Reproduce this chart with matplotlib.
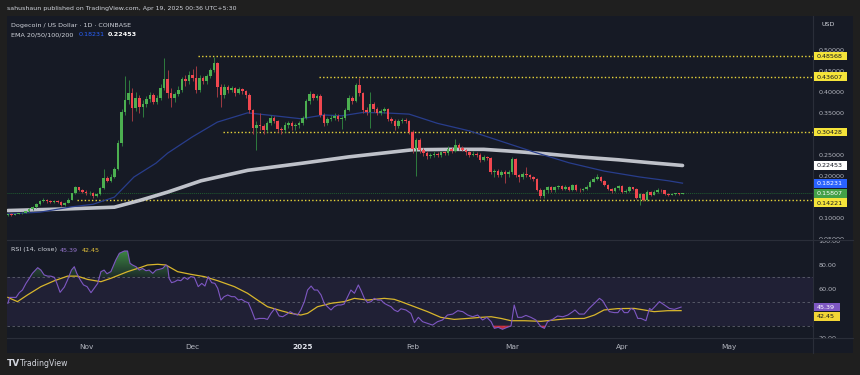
import numpy as np
import matplotlib.pyplot as plt
from matplotlib.patches import Rectangle
from matplotlib.lines import Line2D
from matplotlib.path import Path
from matplotlib.transforms import blended_transform_factory, Bbox

W, H = 860, 375
BG = '#161a25'
FRAME = '#1f1f1f'
GRID = '#2a2e39'
TXT = '#b2b5be'

# --- daily candles, Oct 10 2024 -> Apr 18 2025 (open = previous close) ---
open_first = 0.106
close_oct = [0.108, 0.107, 0.109, 0.110, 0.111, 0.115, 0.121, 0.125, 0.133, 0.140, 0.141, 0.139, 0.137, 0.139, 0.138, 0.130, 0.136, 0.143, 0.158, 0.172, 0.166, 0.162]
high_oct = [0.109, 0.110, 0.111, 0.112, 0.113, 0.117, 0.124, 0.128, 0.136, 0.143, 0.146, 0.144, 0.142, 0.142, 0.141, 0.140, 0.138, 0.146, 0.160, 0.176, 0.174, 0.168]
low_oct = [0.105, 0.105, 0.106, 0.108, 0.109, 0.110, 0.114, 0.119, 0.124, 0.131, 0.137, 0.136, 0.134, 0.135, 0.135, 0.128, 0.129, 0.135, 0.142, 0.156, 0.163, 0.158]

close_nov = [0.158, 0.160, 0.152, 0.156, 0.170, 0.194, 0.188, 0.198, 0.216, 0.277, 0.352, 0.381, 0.398, 0.362, 0.385, 0.364, 0.372, 0.383, 0.392, 0.376, 0.385, 0.410, 0.430, 0.398, 0.385, 0.395, 0.405, 0.430, 0.425, 0.440]
high_nov = [0.165, 0.163, 0.162, 0.158, 0.172, 0.215, 0.200, 0.204, 0.222, 0.285, 0.360, 0.437, 0.428, 0.410, 0.400, 0.392, 0.380, 0.390, 0.400, 0.398, 0.392, 0.418, 0.482, 0.452, 0.410, 0.400, 0.415, 0.436, 0.440, 0.450]
low_nov = [0.154, 0.155, 0.146, 0.150, 0.155, 0.168, 0.184, 0.185, 0.195, 0.214, 0.270, 0.345, 0.370, 0.330, 0.355, 0.350, 0.340, 0.365, 0.375, 0.370, 0.372, 0.380, 0.405, 0.385, 0.365, 0.375, 0.390, 0.400, 0.415, 0.420]

close_dec = [0.432, 0.405, 0.432, 0.425, 0.437, 0.452, 0.468, 0.412, 0.392, 0.412, 0.405, 0.410, 0.398, 0.407, 0.402, 0.393, 0.357, 0.313, 0.321, 0.318, 0.310, 0.325, 0.338, 0.330, 0.312, 0.308, 0.322, 0.326, 0.318, 0.320, 0.325]
high_dec = [0.455, 0.462, 0.440, 0.437, 0.442, 0.458, 0.484, 0.472, 0.418, 0.418, 0.416, 0.415, 0.412, 0.412, 0.410, 0.405, 0.397, 0.360, 0.330, 0.350, 0.324, 0.330, 0.345, 0.342, 0.334, 0.316, 0.328, 0.330, 0.330, 0.325, 0.330]
low_dec = [0.425, 0.398, 0.400, 0.418, 0.420, 0.432, 0.448, 0.388, 0.365, 0.385, 0.398, 0.400, 0.390, 0.394, 0.396, 0.385, 0.350, 0.300, 0.262, 0.310, 0.300, 0.305, 0.320, 0.325, 0.305, 0.300, 0.305, 0.315, 0.310, 0.308, 0.315]

close_jan = [0.338, 0.378, 0.394, 0.386, 0.390, 0.345, 0.325, 0.335, 0.337, 0.343, 0.336, 0.338, 0.357, 0.386, 0.378, 0.416, 0.397, 0.357, 0.352, 0.370, 0.360, 0.350, 0.355, 0.360, 0.335, 0.330, 0.318, 0.330, 0.333, 0.330, 0.305]
high_jan = [0.342, 0.382, 0.402, 0.398, 0.394, 0.395, 0.350, 0.340, 0.345, 0.350, 0.348, 0.342, 0.362, 0.392, 0.390, 0.422, 0.432, 0.400, 0.365, 0.400, 0.375, 0.365, 0.360, 0.365, 0.362, 0.340, 0.335, 0.335, 0.338, 0.337, 0.333]
low_jan = [0.320, 0.335, 0.372, 0.380, 0.380, 0.340, 0.318, 0.320, 0.330, 0.333, 0.330, 0.312, 0.332, 0.355, 0.370, 0.375, 0.390, 0.349, 0.345, 0.313, 0.352, 0.345, 0.345, 0.350, 0.330, 0.325, 0.310, 0.315, 0.325, 0.325, 0.300]

close_feb = [0.265, 0.285, 0.262, 0.254, 0.246, 0.250, 0.253, 0.249, 0.256, 0.254, 0.265, 0.258, 0.274, 0.266, 0.262, 0.256, 0.250, 0.253, 0.250, 0.237, 0.245, 0.242, 0.208, 0.212, 0.202, 0.210, 0.203, 0.210]
high_feb = [0.310, 0.290, 0.290, 0.266, 0.258, 0.255, 0.258, 0.257, 0.260, 0.260, 0.270, 0.268, 0.287, 0.278, 0.270, 0.265, 0.260, 0.258, 0.256, 0.254, 0.250, 0.248, 0.245, 0.216, 0.216, 0.214, 0.214, 0.214]
low_feb = [0.255, 0.200, 0.255, 0.248, 0.240, 0.242, 0.245, 0.244, 0.245, 0.250, 0.250, 0.254, 0.256, 0.262, 0.258, 0.250, 0.245, 0.246, 0.245, 0.232, 0.235, 0.238, 0.204, 0.198, 0.198, 0.198, 0.182, 0.198]

close_mar = [0.240, 0.202, 0.196, 0.205, 0.201, 0.197, 0.192, 0.167, 0.152, 0.165, 0.172, 0.165, 0.172, 0.176, 0.168, 0.174, 0.166, 0.178, 0.167, 0.165, 0.168, 0.174, 0.186, 0.193, 0.196, 0.188, 0.178, 0.168, 0.164, 0.170, 0.176]
high_mar = [0.245, 0.242, 0.205, 0.210, 0.222, 0.205, 0.200, 0.195, 0.170, 0.168, 0.176, 0.175, 0.175, 0.179, 0.178, 0.177, 0.176, 0.181, 0.180, 0.170, 0.171, 0.177, 0.190, 0.198, 0.205, 0.199, 0.190, 0.180, 0.171, 0.173, 0.179]
low_mar = [0.205, 0.198, 0.185, 0.192, 0.198, 0.192, 0.188, 0.163, 0.147, 0.146, 0.160, 0.162, 0.162, 0.168, 0.165, 0.165, 0.163, 0.164, 0.164, 0.162, 0.163, 0.165, 0.172, 0.184, 0.190, 0.185, 0.175, 0.165, 0.160, 0.162, 0.167]

close_apr = [0.162, 0.164, 0.172, 0.168, 0.148, 0.156, 0.143, 0.162, 0.155, 0.162, 0.167, 0.165, 0.157, 0.155, 0.157, 0.158, 0.157, 0.158]
high_apr = [0.178, 0.168, 0.175, 0.174, 0.170, 0.160, 0.158, 0.165, 0.164, 0.165, 0.170, 0.169, 0.167, 0.159, 0.159, 0.160, 0.160, 0.160]
low_apr = [0.158, 0.160, 0.162, 0.165, 0.145, 0.130, 0.140, 0.140, 0.152, 0.153, 0.160, 0.162, 0.155, 0.152, 0.153, 0.155, 0.155, 0.156]

# --- EMA lines (day index, price) ---
ema50_day = [0, 9, 18, 24, 30, 35.5, 41.7, 45, 52, 59, 67.5, 73, 82.5, 89, 94, 100, 106, 113, 121, 130, 139, 148, 158, 168, 178, 186, 190]
ema50_val = [0.109, 0.113, 0.126, 0.132, 0.149, 0.197, 0.230, 0.254, 0.293, 0.328, 0.350, 0.345, 0.336, 0.345, 0.343, 0.351, 0.350, 0.347, 0.325, 0.307, 0.282, 0.257, 0.231, 0.211, 0.197, 0.188, 0.1823]
ema200_day = [0, 17, 30, 37.5, 45, 54.4, 67.6, 83, 96, 114, 125, 134, 141, 152, 161, 172, 181, 190]
ema200_val = [0.117, 0.121, 0.125, 0.142, 0.161, 0.188, 0.213, 0.230, 0.245, 0.262, 0.263, 0.263, 0.259, 0.252, 0.245, 0.238, 0.231, 0.2245]

# --- RSI(14) and its moving average (day index, value) ---
rsi_day = [0, 0.5, 2.3, 3.2, 4.1, 5.1, 6.0, 6.9, 8.4, 9.3, 10.2, 11.2, 12.1, 13.1, 13.8, 14.7, 15.9, 16.8, 17.9, 18.7,
           19.4, 20.4, 21.3, 22.3, 23.4, 24.3, 25.3, 26.2, 27.1, 27.9, 29.0, 30.4, 31.4, 32.8, 33.7, 34.4, 35.1, 36.1, 37.0, 37.9,
           38.9, 39.8, 40.8, 41.7, 42.6, 43.6, 44.5, 45.0, 45.4, 46.1, 47.0, 47.8, 48.7, 49.7, 50.6, 51.5, 52.5, 53.6, 54.6, 55.5,
           56.4, 57.4, 58.3, 59.1, 60.0, 60.9, 61.9, 63.0, 63.9, 64.9, 65.8, 66.8, 67.7, 68.6, 69.6, 70.8, 72.2, 73.1, 74.1, 75.2,
           76.4, 77.4, 78.6, 79.5, 80.7, 81.6, 82.5, 83.5, 84.4, 85.4, 86.3, 87.2, 88.2, 89.1, 90.0, 91.0, 91.9, 92.9, 93.8, 94.7,
           95.7, 96.6, 97.6, 98.7, 99.4, 100.4, 101.3, 102.3, 103.2, 104.1, 105.1, 106.0, 106.9, 107.9, 108.8, 109.8, 110.7, 112.1, 113.5, 114.5,
           115.6, 116.8, 118.2, 119.6, 121.0, 122.4, 123.8, 125.3, 126.7, 128.1, 129.5, 130.9, 132.3, 133.7, 134.9, 136.1, 137.0, 138.1, 139.3, 140.6,
           141.7, 142.6, 143.6, 144.7, 145.9, 147.3, 148.7, 150.1, 151.1, 152.0, 153.4, 154.8, 156.3, 157.7, 159.1, 159.7, 160.9, 162.3, 163.7, 165.2,
           166.6, 167.5, 168.5, 169.4, 170.8, 171.8, 172.7, 173.6, 174.6, 175.5, 176.4, 177.4, 178.3, 179.7, 180.7, 181.3, 182.2, 183.5, 184.9, 186.3,
           187.7, 189.6]
rsi_val = [48.5, 53.4, 53.4, 57.3, 59.5, 65.0, 69.0, 73.3, 78.0, 76.0, 72.0, 71.0, 71.0, 70.0, 65.0, 57.6, 62.0, 67.8, 76.0, 78.8,
           73.3, 67.8, 63.7, 62.3, 57.3, 60.9, 65.0, 74.7, 76.0, 73.0, 74.7, 84.4, 89.9, 91.8, 91.8, 81.6, 80.2, 78.8, 76.0, 77.4,
           75.5, 76.0, 73.3, 76.0, 76.6, 77.4, 80.2, 78.8, 69.2, 65.6, 66.4, 67.8, 67.2, 70.0, 68.3, 70.6, 70.0, 62.3, 65.0, 62.8,
           70.6, 65.6, 65.0, 60.9, 51.2, 54.0, 55.4, 54.0, 54.0, 51.2, 51.8, 49.9, 49.0, 43.0, 35.2, 36.0, 36.0, 35.2, 40.2, 44.3,
           38.0, 37.4, 39.6, 41.6, 39.6, 38.8, 43.0, 49.9, 59.5, 62.8, 59.5, 59.5, 55.4, 48.5, 45.7, 43.0, 45.7, 47.1, 47.1, 47.9,
           54.0, 59.5, 56.8, 63.7, 59.5, 52.6, 49.0, 49.9, 52.6, 51.2, 51.2, 48.5, 47.1, 45.7, 43.0, 41.6, 44.0, 43.0, 40.2, 32.5,
           36.9, 33.3, 31.9, 30.5, 33.3, 34.7, 38.8, 39.6, 42.4, 41.6, 38.8, 37.4, 38.8, 34.7, 36.9, 33.3, 27.8, 28.6, 27.0, 28.6,
           29.7, 47.1, 36.9, 36.9, 38.5, 36.9, 34.7, 29.2, 27.8, 33.3, 35.2, 38.0, 37.4, 38.8, 41.6, 43.0, 39.6, 39.6, 44.3, 48.5,
           52.6, 50.7, 45.7, 41.6, 40.8, 40.8, 44.3, 40.8, 40.8, 44.3, 43.0, 36.0, 36.0, 34.1, 44.3, 43.0, 45.7, 49.9, 47.1, 44.3,
           43.5, 45.39]
rsima_day = [0, 2.7, 5.5, 9.3, 13.1, 16.8, 19.6, 22.4, 26.2, 29.0, 33.7, 37.5, 39.3, 42.2, 44.5, 47.8, 51.5, 55.3, 59.1, 63.8,
             67.5, 70.3, 73.1, 76.9, 79.7, 82.5, 84.4, 87.2, 91.0, 94.7, 97.6, 101.3, 106.0, 108.8, 110.7, 114.5, 118.2, 121.9, 125.7, 129.5,
             133.2, 136.1, 138.9, 141.7, 145.5, 150.1, 153.9, 157.7, 162.3, 165.2, 167.9, 171.7, 176.4, 179.2, 182.0, 185.8, 189.6]
rsima_val = [53.4, 49.9, 55.4, 62.3, 67.2, 71.0, 71.0, 68.3, 66.4, 69.2, 74.7, 78.3, 80.2, 80.8, 80.2, 74.7, 72.5, 70.6, 67.2, 62.3,
             56.8, 51.2, 45.7, 42.4, 40.2, 38.8, 40.2, 45.7, 48.5, 49.9, 52.6, 51.2, 52.6, 51.8, 49.9, 45.7, 41.6, 36.9, 35.2, 36.0,
             36.9, 37.4, 36.0, 34.1, 34.1, 33.6, 34.7, 35.8, 36.0, 38.8, 43.0, 44.1, 44.3, 43.0, 41.6, 42.4, 42.45]

# horizontal levels: (price, first day)
levels = [(0.48568, 53.5), (0.43607, 87.6), (0.30428, 60.5), (0.14221, 19.4)]
last_price = 0.15807
ema50_last, ema200_last = 0.18231, 0.22453
rsi_last, rsima_last = 45.39, 42.45
month_days = [22, 52, 83, 114, 142, 173, 203]
month_labels = ['Nov', 'Dec', '2025', 'Feb', 'Mar', 'Apr', 'May']
price_ticks = [0.05, 0.10, 0.20, 0.25, 0.35, 0.40, 0.45, 0.50]
rsi_ticks = [20, 60, 80, 100]

close = np.array(close_oct + close_nov + close_dec + close_jan + close_feb + close_mar + close_apr)
high = np.array(high_oct + high_nov + high_dec + high_jan + high_feb + high_mar + high_apr)
low = np.array(low_oct + low_nov + low_dec + low_jan + low_feb + low_mar + low_apr)
opn = np.concatenate([[open_first], close[:-1]])
days = np.arange(len(close))


def rect(x0, y0, x1, y1):
    return [x0 / W, 1 - y1 / H, (x1 - x0) / W, (y1 - y0) / H]


def ftext(x, y, s, **kw):
    fig.text(x / W, 1 - y / H, s, va='center', ha='left', **kw)


fig = plt.figure(figsize=(W / 100, H / 100), dpi=100, facecolor=FRAME)
fig.add_artist(Rectangle((7 / W, 1 - 353 / H), 846 / W, 337 / H, transform=fig.transFigure,
                         facecolor=BG, edgecolor='none', zorder=0))

ax = fig.add_axes(rect(7, 16, 813, 239))
ar = fig.add_axes(rect(7, 240, 813, 338), sharex=ax)
for a in (ax, ar):
    a.set_facecolor(BG)
    for s in a.spines.values():
        s.set_visible(False)
    a.tick_params(left=False, bottom=False, labelleft=False, labelbottom=False)

xlim = (-0.25, 226.75)

# --- main pane ---
ax.axhline(last_price, color='#1f5a30', lw=0.7, ls=(0, (1, 1)), zorder=1)
for p, d0 in levels:
    ax.plot([d0, xlim[1]], [p, p], color='#e8d53a', lw=1.0, ls=(0, (1, 1.6)), zorder=2)

ax.plot(ema200_day, ema200_val, color='#d1d4dc', lw=2.6, alpha=0.9, solid_capstyle='round', zorder=3)
ax.plot(ema50_day, ema50_val, color='#283d8c', lw=0.9, zorder=3)

up = close >= opn
body_lo = np.minimum(opn, close)
body_h = np.maximum(np.abs(close - opn), 0.0015)
ax.vlines(days[up], low[up], high[up], color='#2e7d3e', lw=0.7, zorder=4)
ax.vlines(days[~up], low[~up], high[~up], color='#a03a42', lw=0.7, zorder=4)
ax.bar(days[up], body_h[up], bottom=body_lo[up], width=0.72, color='#4caf50', lw=0, zorder=5)
ax.bar(days[~up], body_h[~up], bottom=body_lo[~up], width=0.72, color='#f0474f', lw=0, zorder=5)

ax.set_xlim(*xlim)
ax.set_ylim(0.0491, 0.5811)

# --- RSI pane ---
ar.axhspan(30, 70, color='#7e57c2', alpha=0.1, lw=0, zorder=0)
for lv in (70, 50, 30):
    ar.axhline(lv, color='#787b86', lw=0.6, ls=(0, (3, 3)), alpha=0.7, zorder=1)

rsi_x = np.array(rsi_day)
rsi_y = np.array(rsi_val)
fb_hi = ar.fill_between(rsi_x, rsi_y, 70, where=rsi_y > 70, interpolate=True, facecolor='none', edgecolor='none')
fb_lo = ar.fill_between(rsi_x, rsi_y, 30, where=rsi_y < 30, interpolate=True, facecolor='none', edgecolor='none')

g = np.linspace(0, 1, 128)[:, None]
grad_hi = np.zeros((128, 1, 4))
grad_hi[..., 0], grad_hi[..., 1], grad_hi[..., 2] = 0.30, 0.69, 0.31
grad_hi[..., 3] = 0.12 + 0.85 * g
im_hi = ar.imshow(grad_hi, extent=[xlim[0], xlim[1], 70, 100], origin='lower', aspect='auto', zorder=2)
im_hi.set_clip_path(Path.make_compound_path(*fb_hi.get_paths()), ar.transData)

grad_lo = np.zeros((128, 1, 4))
grad_lo[..., 0], grad_lo[..., 1], grad_lo[..., 2] = 0.95, 0.21, 0.27
grad_lo[..., 3] = 0.12 + 0.7 * g
im_lo = ar.imshow(grad_lo, extent=[xlim[0], xlim[1], 30, 0], origin='upper', aspect='auto', zorder=2)
paths_lo = fb_lo.get_paths()
if paths_lo:
    im_lo.set_clip_path(Path.make_compound_path(*paths_lo), ar.transData)
else:
    im_lo.set_visible(False)

ar.plot(rsima_day, rsima_val, color='#d8b62c', lw=0.9, zorder=3)
ar.plot(rsi_day, rsi_val, color='#7e57c2', lw=0.8, zorder=4)
ar.set_xlim(*xlim)
ar.set_ylim(19.8, 100.9)

# --- scales on the right ---
FS = 4.6
main_clip = fig.transFigure.transform_bbox(Bbox.from_extents(813 / W, 1 - 239 / H, 853 / W, 1 - 16 / H))
rsi_clip = fig.transFigure.transform_bbox(Bbox.from_extents(813 / W, 1 - 338 / H, 853 / W, 1 - 240 / H))
tr_main = blended_transform_factory(ax.transAxes, ax.transData)
tr_rsi = blended_transform_factory(ar.transAxes, ar.transData)
for p in price_ticks:
    t = ax.text(1.0065, p, f'{p:.5f}', transform=tr_main, fontsize=FS, color=TXT,
                ha='left', va='center_baseline', clip_on=True, zorder=1)
    t.set_clip_box(main_clip)
for v in rsi_ticks:
    t = ar.text(1.0065, v, f'{v:.2f}', transform=tr_rsi, fontsize=FS, color=TXT,
                ha='left', va='center_baseline', clip_on=True, zorder=1)
    t.set_clip_box(rsi_clip)


def place_badges(axis, items, width, gap=9.4):
    # items: (value, text, face, text colour); push apart like the price scale does
    ys = [(axis.transData.transform((0, v))[1], s, fc, tc) for v, s, fc, tc in items]
    ys.sort(key=lambda r: -r[0])
    prev = None
    for y, s, fc, tc in ys:
        if prev is not None and prev - y < gap:
            y = prev - gap
        prev = y
        fig.add_artist(Rectangle((814 / W, (y - 4.4) / H), width / W, 8.8 / H, transform=fig.transFigure,
                                 facecolor=fc, edgecolor='none', zorder=10))
        fig.text(817 / W, y / H, s, fontsize=FS, color=tc, ha='left', va='center_baseline', zorder=11)


price_items = [(p, f'{p:.5f}', '#f5e43a', '#131722') for p, _ in levels]
price_items += [(ema200_last, f'{ema200_last:.5f}', '#ffffff', '#131722'),
                (ema50_last, f'{ema50_last:.5f}', '#2962ff', 'white'),
                (last_price, f'{last_price:.5f}', '#43a047', 'white')]
place_badges(ax, price_items, 33)
place_badges(ar, [(rsi_last, f'{rsi_last:.2f}', '#7e57c2', 'white'),
                  (rsima_last, f'{rsima_last:.2f}', '#f2d535', '#131722')], 26)

# time axis
tr_time = blended_transform_factory(ar.transData, ar.transAxes)
for d, lab in zip(month_days, month_labels):
    bold = lab == '2025'
    ar.text(d, -0.092, lab, transform=tr_time, fontsize=5.3, ha='center', va='center',
            color='#e0e3eb' if bold else TXT, fontweight='bold' if bold else 'normal', clip_on=False)

# separators
for y in (239.5, 338):
    fig.add_artist(Line2D([7 / W, 853 / W], [1 - y / H, 1 - y / H], color=GRID, lw=0.8, transform=fig.transFigure))
fig.add_artist(Line2D([813 / W, 813 / W], [1 - 16 / H, 1 - 353 / H], color=GRID, lw=0.8, transform=fig.transFigure))

# header texts
ftext(7, 8.5, 'sahushaun published on TradingView.com, Apr 19, 2025 00:36 UTC+5:30', fontsize=4.5, color='#d1d4dc')
ftext(11, 25, 'Dogecoin / US Dollar · 1D · COINBASE', fontsize=4.55, color='#d1d4dc')
ftext(11, 35, 'EMA 20/50/100/200', fontsize=4.55, color='#d1d4dc')
ftext(79, 35, f'{ema50_last:.5f}', fontsize=4.55, color='#2962ff')
ftext(108, 35, f'{ema200_last:.5f}', fontsize=4.55, color='white', fontweight='bold')
ftext(821, 25, 'USD', fontsize=4.6, color='#d1d4dc')
ftext(11, 250, 'RSI (14, close)', fontsize=4.55, color='#d1d4dc')
ftext(60, 250, f'{rsi_last:.2f}', fontsize=4.55, color='#9575cd')
ftext(82, 250, f'{rsima_last:.2f}', fontsize=4.55, color='#e3c23a')
ftext(7, 364, 'TV', fontsize=6.5, color='#d1d4dc', fontweight='bold')
ftext(20, 364, 'TradingView', fontsize=5.6, color='#d1d4dc')

fig.savefig('out.png', dpi=100, facecolor=FRAME)
